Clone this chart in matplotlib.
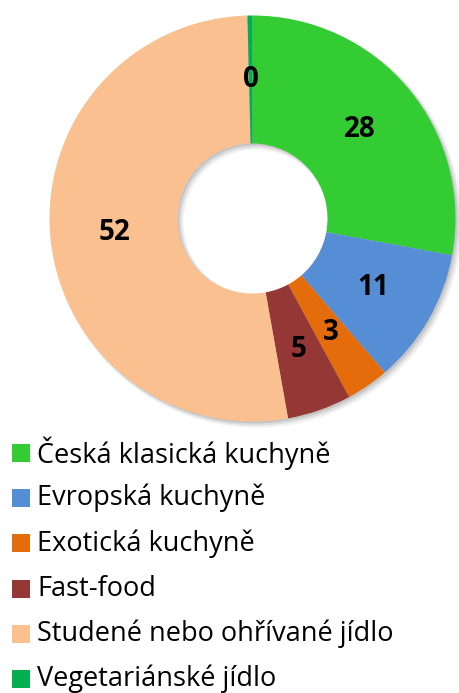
import matplotlib
matplotlib.use("Agg")
import matplotlib.pyplot as plt
from matplotlib.patches import Rectangle, Wedge
import numpy as np

categories = ["Česká klasická kuchyně", "Evropská kuchyně", "Exotická kuchyně",
              "Fast-food", "Studené nebo ohřívané jídlo", "Vegetariánské jídlo"]
values = [27.9, 10.8, 3.4, 5.1, 52.4, 0.4]
colors = ["#33CC33", "#558ED5", "#E46C0A", "#953735", "#FAC090", "#00B050"]

W, H = 459, 693
fig = plt.figure(figsize=(W / 100, H / 100), dpi=100)
ax = fig.add_axes([0, 0, 1, 1])
ax.set_xlim(0, W)
ax.set_ylim(0, H)
ax.axis("off")

cx, cy = 252.5, H - 218.5
R_out, R_in = 203.0, 75.0
width = R_out - R_in

# soft shadow (offset down-right)
for off, a, dr in [(4.0, 0.06, 2.0), (3.0, 0.08, 1.0), (2.0, 0.10, 0.0)]:
    ax.add_patch(Wedge((cx + off, cy - off), R_out + dr, 0, 360, width=width + 2 * dr,
                       facecolor="black", alpha=a, edgecolor="none", zorder=1))

wedges, _ = ax.pie(values, colors=colors, startangle=90, counterclock=False,
                   radius=R_out, center=(cx, cy),
                   wedgeprops=dict(width=width, edgecolor="none", linewidth=0))
for w in wedges:
    w.set_zorder(2)
ax.set_xlim(0, W)
ax.set_ylim(0, H)
ax.set_aspect("equal")

r_lab = (R_out + R_in) / 2
for w, v in zip(wedges, values):
    ang = np.deg2rad((w.theta1 + w.theta2) / 2)
    x = cx + r_lab * np.cos(ang)
    y = cy + r_lab * np.sin(ang)
    ax.text(x, y, f"{v:.0f}", ha="center", va="center", fontsize=20,
            fontweight="bold", family="Open Sans", color="black", zorder=3)

# legend
y0 = 453
dy = 45.2
for i, (lab, c) in enumerate(zip(categories, colors)):
    yc = H - (y0 + i * dy)
    ax.add_patch(Rectangle((12, yc - 9), 18, 18, facecolor=c, edgecolor="none"))
    ax.text(37, yc, lab, ha="left", va="center", fontsize=19.5, family="Open Sans",
            color="black")

fig.savefig("out.png", dpi=100)
